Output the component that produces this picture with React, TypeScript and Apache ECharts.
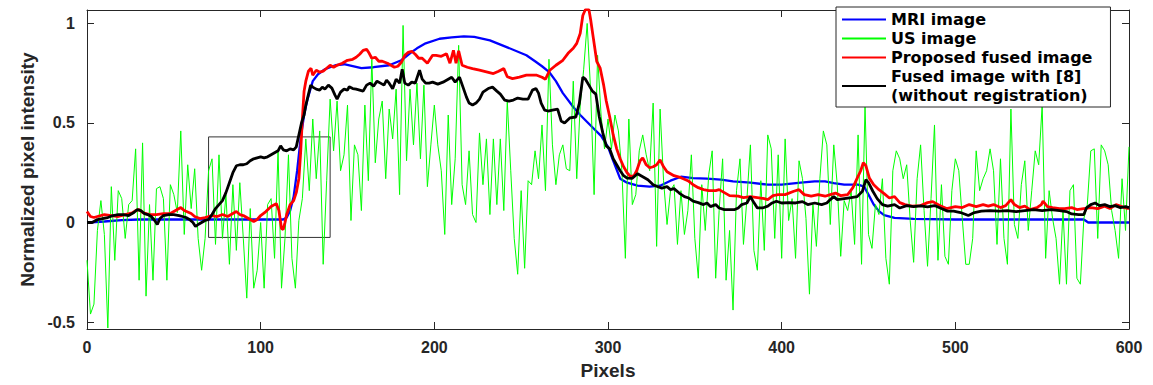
import React, { useEffect, useRef } from "react";
import * as echarts from "echarts";

// ---------- data ----------
const X_TICKS = [0, 100, 200, 300, 400, 500, 600];
const Y_TICKS = [-0.5, 0, 0.5, 1];

const MRI_X = [0, 10, 20, 30, 60, 90, 110, 113, 115, 117, 119, 121, 123, 125, 127, 130, 133, 137, 143, 148, 153, 158, 165, 174, 181, 186, 190, 195, 203, 210, 217, 223, 232, 242, 253, 258, 262, 266, 270, 274, 280, 284, 288, 292, 296, 300, 303, 307, 311, 317, 324, 330, 336, 342, 349, 357, 365, 372, 382, 392, 400, 411, 419, 425, 430, 436, 444, 447.5, 450, 453, 456, 459, 465, 476, 500, 574, 576.5, 600];
const MRI_Y = [0.0, 0.005, 0.012, 0.015, 0.015, 0.015, 0.015, 0.015, 0.025, 0.06, 0.13, 0.26, 0.42, 0.54, 0.62, 0.71, 0.745, 0.77, 0.79, 0.795, 0.785, 0.775, 0.78, 0.79, 0.815, 0.85, 0.875, 0.9, 0.923, 0.93, 0.935, 0.932, 0.915, 0.88, 0.84, 0.81, 0.785, 0.757, 0.71, 0.65, 0.58, 0.54, 0.505, 0.47, 0.435, 0.38, 0.31, 0.22, 0.2, 0.185, 0.18, 0.185, 0.21, 0.23, 0.223, 0.22, 0.215, 0.207, 0.2, 0.19, 0.19, 0.2, 0.207, 0.207, 0.198, 0.19, 0.19, 0.18, 0.14, 0.09, 0.057, 0.037, 0.023, 0.018, 0.015, 0.015, 0.0, 0.0];

const US_STEP = 2;
const US_Y = [
  -0.19, -0.46, -0.41, -0.04, 0.11, -0.06, -0.53, 0.18, -0.19, 0.16, 0.12, -0.08, 0.09, 0.11, 0.37, -0.29, 0.4, -0.37, 0.09, -0.29,
  0.17, 0.18, 0.12, -0.29, 0.19, 0.14, 0.05, 0.46, -0.06, 0.29, 0.07, 0.27, -0.08, -0.24, -0.08, 0.26, 0.32, -0.11, 0.34, -0.08,
  0.14, -0.21, 0.19, -0.14, 0.2, -0.08, -0.38, 0.07, -0.33, -0.24, 0.0,
  -0.33, 0.09, 0.12, -0.18, 0.36, -0.33, -0.08, 0.34, -0.18, -0.33, 0.01, 0.12, 0.42, 0.16, 0.52, 0.22, 0.46, -0.21, 0.21, 0.62,
  0.36, 0.61, 0.26, 0.34, 0.59, 0.01, 0.39, 0.34, 0.06, 0.59, 0.21, 0.82, 0.3, 0.52, 0.61, 0.22, 0.57, 0.42, 0.67, 0.14,
  0.99, 0.31, 0.67, 0.39, 0.7, 0.32, 0.69, 0.18, 0.39, 0.59,
  0.39, 0.26, -0.06, 0.54, 0.09, 0.32, 0.89, 0.19, 0.09, 0.36, 0.04, 0.0, 0.45, 0.19, 0.42, 0.04, 0.42, 0.09, 0.42, 0.06,
  0.61, 0.26, -0.08, -0.26, 0.16, -0.23, 0.21, 0.19, 0.36, 0.22, 0.49, 0.16, 0.82, 0.39, 0.19, 0.34, 0.39, 0.27, 0.26, 0.71,
  0.22, 0.59, 0.77, 1.0, 0.66, 0.14, 0.84, 0.54, 0.37, 0.52,
  0.37, 0.54, 0.46, 0.26, -0.18, 0.52, 0.09, 0.14, 0.36, 0.44, 0.34, 0.26, 0.6, -0.12, 0.57, 0.21, -0.01, 0.16, 0.19, -0.11,
  0.16, -0.06, 0.06, 0.34, -0.08, -0.28, 0.19, -0.04, 0.24, 0.36, -0.28, 0.06, 0.32, -0.29, -0.04, -0.44, 0.16, 0.32, -0.11, 0.12,
  0.39, -0.14, -0.24, 0.21, -0.14, 0.44, 0.37, -0.08, 0.34, -0.18,
  0.42, 0.01, 0.12, -0.18, 0.31, 0.22, 0.02, -0.36, 0.09, -0.12, 0.22, 0.46, 0.39, -0.01, 0.39, 0.19, -0.17, 0.11, 0.06, 0.16,
  -0.11, 0.44, -0.21, 0.59, -0.06, -0.13, 0.09, 0.04, 0.22, -0.18, -0.31, 0.26, 0.36, 0.32, 0.22, 0.29, 0.01, -0.2, 0.22, 0.39,
  0.06, -0.22, 0.12, 0.49, -0.19, 0.19, -0.17, -0.21, 0.16, 0.32,
  0.26, 0.02, -0.21, -0.21, -0.08, 0.36, 0.16, 0.22, 0.26, 0.37, 0.26, -0.11, 0.32, -0.08, -0.21, 0.57, -0.01, -0.08, 0.19, 0.31,
  -0.04, 0.16, 0.36, 0.29, 0.59, -0.18, 0.16, 0.02, -0.08, -0.31, 0.06, -0.31, 0.16, 0.19, -0.28, -0.31, 0.02, 0.09, 0.36, 0.37,
  -0.08, 0.39, 0.36, 0.29, 0.06, -0.04, -0.18, 0.22, -0.04, 0.38,
];

const FUSED_X = [0, 2, 4, 6, 10, 14, 18, 22, 26, 28, 30, 32, 36, 40, 44, 48, 52, 54, 56, 60, 62, 65, 68, 72, 75, 78, 81, 84, 86, 88, 90, 93, 96, 98, 100, 103, 106, 109, 110.5, 112, 113, 114, 115, 117, 119, 120.5, 122, 123, 124, 125, 126, 127.5, 129, 130, 132, 134, 136, 138, 140, 142, 144, 147, 150, 153, 155, 157, 159, 161, 162.5, 164, 166, 168, 170, 173, 175, 177, 179, 181, 183, 185, 187, 189, 191, 193, 196, 199, 201, 204, 207, 209, 211, 212.5, 214, 216, 219, 222, 226, 230, 234, 237, 240, 242, 245, 249, 253, 259, 262, 264, 266.5, 270, 274, 277, 280, 282, 284, 285.5, 287, 289, 290, 291.5, 293.5, 295.5, 297.5, 299, 301, 303, 305, 307, 309, 311, 313, 315, 316.5, 318.5, 320, 322, 324, 326, 328, 330, 332, 334, 338, 342, 346, 349, 352, 355, 358, 362, 364, 367, 370, 375, 378, 382, 386, 390, 392, 395, 398, 402, 407, 410, 413, 417, 421, 425, 428, 431, 434, 438, 441, 443.5, 445.5, 447, 448.5, 450.5, 453, 456, 459, 462, 465, 468, 471, 475, 480, 484, 487, 491, 495, 500, 504, 508, 512, 516, 519, 522, 526, 529, 532, 534, 537, 540, 543, 547, 549.5, 550.5, 553, 556, 560, 563, 567, 570, 574, 578, 582, 586, 589, 592.5, 595, 598, 600];
const FUSED_Y = [0.055, 0.03, 0.025, 0.03, 0.04, 0.035, 0.03, 0.04, 0.048, 0.06, 0.065, 0.05, 0.04, 0.04, 0.045, 0.045, 0.065, 0.075, 0.06, 0.045, 0.03, 0.02, 0.025, 0.035, 0.03, 0.04, 0.03, 0.045, 0.055, 0.04, 0.035, 0.02, 0.005, 0.015, 0.035, 0.055, 0.08, 0.095, 0.06, -0.03, -0.035, 0.0, 0.04, 0.09, 0.11, 0.15, 0.22, 0.35, 0.52, 0.66, 0.71, 0.76, 0.775, 0.74, 0.765, 0.755, 0.76, 0.775, 0.79, 0.78, 0.79, 0.8, 0.815, 0.82, 0.83, 0.845, 0.865, 0.87, 0.85, 0.825, 0.83, 0.81, 0.81, 0.8, 0.79, 0.78, 0.785, 0.805, 0.84, 0.855, 0.86, 0.845, 0.825, 0.825, 0.8, 0.84, 0.84, 0.835, 0.848, 0.8, 0.865, 0.8, 0.862, 0.79, 0.78, 0.773, 0.765, 0.757, 0.748, 0.76, 0.773, 0.732, 0.723, 0.73, 0.74, 0.74, 0.73, 0.72, 0.765, 0.79, 0.815, 0.85, 0.875, 0.9, 0.95, 1.04, 1.07, 1.07, 1.02, 0.93, 0.81, 0.775, 0.69, 0.61, 0.53, 0.44, 0.37, 0.32, 0.28, 0.25, 0.23, 0.235, 0.26, 0.31, 0.325, 0.29, 0.275, 0.28, 0.29, 0.315, 0.28, 0.255, 0.235, 0.225, 0.21, 0.19, 0.175, 0.165, 0.16, 0.16, 0.165, 0.15, 0.135, 0.132, 0.125, 0.13, 0.125, 0.12, 0.115, 0.135, 0.14, 0.14, 0.157, 0.165, 0.14, 0.132, 0.14, 0.132, 0.14, 0.148, 0.135, 0.14, 0.175, 0.223, 0.26, 0.3, 0.285, 0.223, 0.19, 0.165, 0.145, 0.123, 0.13, 0.1, 0.09, 0.082, 0.085, 0.1, 0.105, 0.085, 0.07, 0.08, 0.075, 0.09, 0.08, 0.09, 0.082, 0.09, 0.075, 0.085, 0.115, 0.09, 0.075, 0.082, 0.065, 0.075, 0.09, 0.107, 0.08, 0.075, 0.07, 0.07, 0.075, 0.065, 0.07, 0.075, 0.07, 0.082, 0.07, 0.09, 0.082, 0.073, 0.07];

const REF8_X = [0, 3, 6, 9, 12, 15, 18, 21, 24, 27, 29, 31, 33, 35, 37, 39, 40.5, 42, 44, 47, 50, 53, 55, 57, 59, 61, 62.5, 64, 66, 68, 70, 72, 74, 76, 78, 80, 82, 84, 86, 88, 90, 92, 94, 96, 98, 100, 102, 104, 106, 108, 110, 111.5, 113, 115, 117, 119, 120.5, 121.5, 122.5, 123.5, 125, 126, 127.4, 128.8, 130, 132, 134, 135.5, 137, 139, 141, 142.8, 144, 146, 148, 150, 151, 153, 155, 157, 159, 161, 163, 165, 167, 169, 171, 172.5, 174, 176, 178, 180, 181.5, 183, 185, 187, 189, 191.5, 193, 195, 197, 199, 202, 205, 208, 210, 212, 214.5, 216.5, 218.5, 220, 222, 224, 226, 228, 231, 233.5, 236, 238, 240.5, 243, 245.5, 248, 251, 254, 256.5, 258.5, 260, 261.5, 263.5, 265.5, 268, 271, 273, 275, 278, 281.5, 283.5, 285.5, 287, 289, 291, 293, 295, 297, 299, 301, 303, 305, 307, 309, 311, 314, 317, 320, 323, 326, 328, 331, 334, 336, 338, 341, 344, 346.5, 349, 352, 355, 357, 359, 362, 364, 367, 370, 373, 375, 377, 380, 382, 384, 386, 389, 392, 394.5, 397, 400, 404, 408, 412, 415, 419, 423, 426, 428, 430, 432, 436, 440, 443.5, 446.5, 448.5, 450, 452.5, 455, 458, 461, 465, 468, 472, 476, 480, 484, 488, 492, 495.5, 499, 503, 507.5, 511, 515, 520, 525, 530, 535, 540, 545, 550, 555, 560, 564, 567, 571, 574, 575.5, 578, 580.5, 583, 586, 589, 592, 595, 598, 600];
const REF8_Y = [0.0, 0.0, 0.015, 0.02, 0.025, 0.035, 0.04, 0.04, 0.035, 0.05, 0.065, 0.06, 0.045, 0.04, 0.03, 0.01, -0.01, 0.02, 0.035, 0.04, 0.04, 0.035, 0.03, 0.025, 0.015, 0.0, -0.02, -0.01, 0.0, 0.01, 0.015, 0.04, 0.07, 0.09, 0.11, 0.15, 0.2, 0.25, 0.285, 0.29, 0.29, 0.295, 0.31, 0.32, 0.325, 0.33, 0.325, 0.33, 0.34, 0.35, 0.36, 0.385, 0.365, 0.36, 0.37, 0.365, 0.38, 0.42, 0.46, 0.5, 0.54, 0.59, 0.64, 0.69, 0.68, 0.67, 0.665, 0.68, 0.67, 0.69, 0.675, 0.64, 0.62, 0.655, 0.67, 0.665, 0.682, 0.673, 0.67, 0.665, 0.66, 0.69, 0.7, 0.685, 0.71, 0.7, 0.69, 0.715, 0.7, 0.672, 0.72, 0.7, 0.77, 0.7, 0.69, 0.705, 0.7, 0.765, 0.72, 0.7, 0.7, 0.705, 0.695, 0.705, 0.72, 0.73, 0.705, 0.73, 0.68, 0.63, 0.6, 0.59, 0.6, 0.62, 0.655, 0.673, 0.68, 0.66, 0.645, 0.615, 0.61, 0.615, 0.625, 0.62, 0.62, 0.665, 0.673, 0.65, 0.6, 0.565, 0.56, 0.565, 0.57, 0.51, 0.5, 0.525, 0.53, 0.6, 0.73, 0.72, 0.69, 0.66, 0.645, 0.53, 0.45, 0.385, 0.37, 0.32, 0.29, 0.26, 0.235, 0.223, 0.222, 0.245, 0.23, 0.215, 0.19, 0.182, 0.173, 0.18, 0.165, 0.17, 0.148, 0.13, 0.123, 0.107, 0.1, 0.09, 0.098, 0.08, 0.09, 0.073, 0.065, 0.065, 0.065, 0.073, 0.09, 0.098, 0.13, 0.1, 0.073, 0.073, 0.082, 0.098, 0.107, 0.098, 0.1, 0.098, 0.105, 0.09, 0.098, 0.09, 0.098, 0.115, 0.13, 0.115, 0.12, 0.125, 0.13, 0.157, 0.215, 0.2, 0.157, 0.12, 0.09, 0.082, 0.09, 0.073, 0.085, 0.08, 0.083, 0.078, 0.085, 0.07, 0.057, 0.057, 0.05, 0.035, 0.05, 0.057, 0.06, 0.057, 0.06, 0.055, 0.06, 0.065, 0.06, 0.065, 0.06, 0.055, 0.043, 0.04, 0.04, 0.073, 0.09, 0.098, 0.085, 0.09, 0.08, 0.085, 0.075, 0.08, 0.075];

// zoom box (region of interest) corners
const BOX_X = [70, 140, 140, 70, 70];
const BOX_Y = [-0.075, -0.075, 0.43, 0.43, -0.075];

const NAMES = [
  "MRI image",
  "US image",
  "Proposed fused image",
  "Fused image with [8]\n(without registration)",
];

// ---------- helpers ----------
const pairs = (xs: number[], ys: number[]) => xs.map((x, i) => [x, ys[i]]);
const usPairs = US_Y.map((y, i) => [i * US_STEP, y]);

const AX_COLOR = "#262626";
const TICK_FONT = "'Liberation Sans', Arial, sans-serif";

export default function App() {
  const ref = useRef<HTMLDivElement>(null);
  useEffect(() => {
    document.body.style.margin = "0";
    const chart = echarts.init(ref.current!, null, { renderer: "svg" });
    const xCommon = {
      type: "value",
      min: 0,
      max: 600,
      interval: 100,
      splitLine: { show: false },
      axisLine: { show: true, onZero: false, lineStyle: { color: AX_COLOR, width: 1 } },
      axisTick: { show: true, inside: true, length: 7, lineStyle: { color: AX_COLOR } },
    };
    const yCommon = {
      type: "value",
      min: -0.535,
      max: 1.0675,
      splitLine: { show: false },
      axisLine: { show: true, onZero: false, lineStyle: { color: AX_COLOR, width: 1 } },
      axisTick: { show: true, inside: true, length: 7, customValues: Y_TICKS, lineStyle: { color: AX_COLOR } },
    };
    const option: any = {
      animation: false,
      backgroundColor: "#ffffff",
      grid: { left: 87, top: 10, width: 1042, height: 320 },
      legend: {
        orient: "vertical",
        left: 836,
        top: 7,
        data: NAMES,
        itemWidth: 44,
        itemHeight: 14,
        itemGap: 0,
        padding: [3, 18, 2, 5],
        backgroundColor: "#ffffff",
        borderColor: AX_COLOR,
        borderWidth: 1,
        borderRadius: 0,
        itemStyle: { opacity: 0 },
        textStyle: {
          fontFamily: "'DejaVu Sans', sans-serif",
          fontWeight: "bold",
          fontSize: 16,
          lineHeight: 19,
          color: "#000",
        },
      },
      xAxis: [
        {
          ...xCommon,
          position: "bottom",
          name: "Pixels",
          nameLocation: "middle",
          nameGap: 32,
          nameTextStyle: { fontFamily: TICK_FONT, fontWeight: "bold", fontSize: 19, color: "#262626" },
          axisLabel: { show: true, margin: 10, fontFamily: TICK_FONT, fontWeight: "bold", fontSize: 16, color: "#262626" },
        },
        { ...xCommon, position: "top", axisLabel: { show: false } },
      ],
      yAxis: [
        {
          ...yCommon,
          position: "left",
          name: "Normalized pixel intensity",
          nameLocation: "middle",
          nameGap: 50,
          nameTextStyle: { fontFamily: TICK_FONT, fontWeight: "bold", fontSize: 19, color: "#262626" },
          axisLabel: {
            show: true,
            customValues: Y_TICKS,
            margin: 12,
            fontFamily: TICK_FONT,
            fontWeight: "bold",
            fontSize: 16,
            color: "#262626",
          },
        },
        { ...yCommon, position: "right", axisLabel: { show: false } },
      ],
      series: [
        {
          name: "box",
          type: "line",
          data: pairs(BOX_X, BOX_Y),
          symbol: "none",
          silent: true,
          lineStyle: { color: "#333333", width: 1 },
          itemStyle: { color: "#333333" },
        },
        {
          name: NAMES[0],
          type: "line",
          data: pairs(MRI_X, MRI_Y),
          symbol: "none",
          lineStyle: { color: "#0000ff", width: 2.3 },
          itemStyle: { color: "#0000ff" },
        },
        {
          name: NAMES[1],
          type: "line",
          data: usPairs,
          symbol: "none",
          lineStyle: { color: "#00ff00", width: 1 },
          itemStyle: { color: "#00ff00" },
        },
        {
          name: NAMES[2],
          type: "line",
          data: pairs(FUSED_X, FUSED_Y),
          symbol: "none",
          lineStyle: { color: "#ff0000", width: 2.8 },
          itemStyle: { color: "#ff0000" },
        },
        {
          name: NAMES[3],
          type: "line",
          data: pairs(REF8_X, REF8_Y),
          symbol: "none",
          lineStyle: { color: "#000000", width: 2.8 },
          itemStyle: { color: "#000000" },
        },
      ],
    };
    chart.setOption(option);
    return () => chart.dispose();
  }, []);
  return <div ref={ref} style={{ width: 1153, height: 385 }} />;
}
